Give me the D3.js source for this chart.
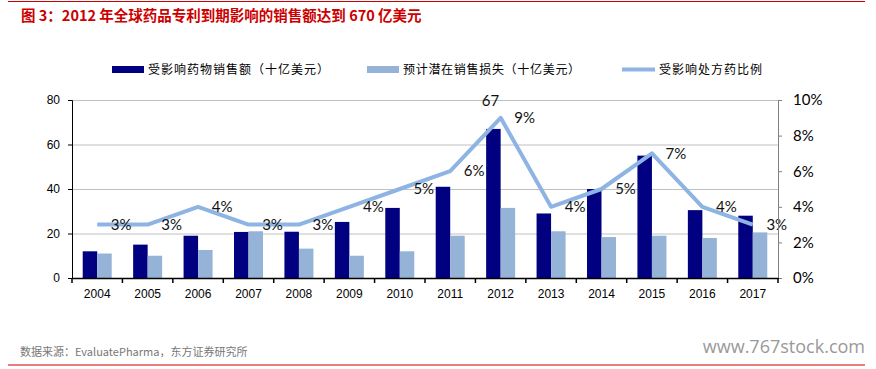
<!DOCTYPE html>
<html><head><meta charset="utf-8">
<script src="https://cdn.jsdelivr.net/npm/d3@7/dist/d3.min.js"></script>
<style>
html,body{margin:0;padding:0;background:#fff;}
svg{display:block;}
</style>
</head><body>
<svg id="c" width="876" height="369"></svg>
<script>
const years = ["2004","2005","2006","2007","2008","2009","2010","2011","2012","2013","2014","2015","2016","2017"];
const salesAffected = [12, 15, 19, 20.7, 20.8, 25.2, 31.5, 41, 67, 29, 40, 55, 30.5, 28];
const salesLost = [11, 10, 12.6, 21, 13.2, 10, 12, 19, 31.5, 21, 18.4, 19, 18, 20.5];
const ratioPct = [3, 3, 4, 3, 3, 4, 5, 6, 9, 4, 5, 7, 4, 3];
const leftTicks = [0, 20, 40, 60, 80];
const rightTicks = [0, 2, 4, 6, 8, 10];
const seriesNames = ["受影响药物销售额（十亿美元）", "预计潜在销售损失（十亿美元）", "受影响处方药比例"];
const titleText = "图 3：2012 年全球药品专利到期影响的销售额达到 670 亿美元";
const sourceText = "数据来源：EvaluatePharma，东方证券研究所";
const watermark = "www.767stock.com";

const svg = d3.select("#c");
const L = 72, R = 778, T = 100, B = 278;
const cDark = "#000080", cLight = "#95B3D7", cLine = "#8DB4E2", red = "#cc0000";

// frame lines
svg.append("line").attr("x1",8).attr("x2",865).attr("y1",1.5).attr("y2",1.5).attr("stroke",red).attr("stroke-width",1.2);
svg.append("line").attr("x1",8).attr("x2",865).attr("y1",365).attr("y2",365).attr("stroke",red).attr("stroke-width",1.2);

svg.append("text").attr("x",21).attr("y",21).text(titleText)
  .attr("fill",red).attr("font-family","'Noto Sans CJK SC', sans-serif").attr("font-weight","bold").attr("font-size",14.5);

const x = d3.scaleBand().domain(years).range([L,R]).padding(0);
const yL = d3.scaleLinear().domain([0,80]).range([B,T]);
const yR = d3.scaleLinear().domain([0,10]).range([B,T]);
const bw = 14.5;

// grid
svg.append("g").selectAll("line").data(leftTicks.filter(d=>d>0)).join("line")
  .attr("x1",L).attr("x2",R).attr("y1",d=>yL(d)+0.5).attr("y2",d=>yL(d)+0.5)
  .attr("stroke","#c0c0c0").attr("stroke-width",1);

// bars
svg.append("g").selectAll("rect").data(years).join("rect")
  .attr("x",(d)=>x(d)+x.bandwidth()/2-bw).attr("width",bw)
  .attr("y",(d,i)=>yL(salesAffected[i])).attr("height",(d,i)=>B-yL(salesAffected[i]))
  .attr("fill",cDark);
svg.append("g").selectAll("rect").data(years).join("rect")
  .attr("x",(d)=>x(d)+x.bandwidth()/2).attr("width",bw)
  .attr("y",(d,i)=>yL(salesLost[i])).attr("height",(d,i)=>B-yL(salesLost[i]))
  .attr("fill",cLight);

// line
const line = d3.line().x((d,i)=>x(years[i])+x.bandwidth()/2).y(d=>yR(d));
svg.append("path").datum(ratioPct).attr("d",line).attr("fill","none")
  .attr("stroke",cLine).attr("stroke-width",4).attr("stroke-linejoin","round");

// percent labels
svg.append("g").selectAll("text").data(ratioPct).join("text")
  .attr("x",(d,i)=>x(years[i])+x.bandwidth()/2+24).attr("y",d=>yR(d)).attr("dy","0.35em")
  .attr("text-anchor","middle").attr("font-family","Lato, sans-serif").attr("font-size",15).attr("fill","#111")
  .text(d=>d+"%");

// 67 label
const iMax = salesAffected.indexOf(d3.max(salesAffected));
svg.append("text").attr("x",x(years[iMax])+x.bandwidth()/2-bw/2-3).attr("y",yL(salesAffected[iMax])-28).attr("dy","0.35em")
  .attr("text-anchor","middle").attr("font-family","Lato, sans-serif").attr("font-size",15).attr("fill","#111")
  .text(salesAffected[iMax]);

// left axis
const gl = svg.append("g").attr("transform",`translate(${L},0)`)
  .call(d3.axisLeft(yL).tickValues(leftTicks).tickSize(4).tickPadding(8));
gl.select(".domain").attr("stroke","#000");
gl.selectAll("text").attr("font-family","'Liberation Sans', Arial, sans-serif").attr("font-size",12).attr("fill","#000");

// right axis
const gr = svg.append("g").attr("transform",`translate(${R},0)`)
  .call(d3.axisRight(yR).tickValues(rightTicks).tickSize(4).tickPadding(11).tickFormat(d=>d+"%"));
gr.select(".domain").attr("stroke","#808080");
gr.selectAll(".tick line").attr("stroke","#808080");
gr.selectAll("text").attr("font-family","Lato, sans-serif").attr("font-size",15).attr("fill","#000");

// bottom axis
const gb = svg.append("g").attr("transform",`translate(0,${B})`)
  .call(d3.axisBottom(x).tickSize(0).tickPadding(11));
gb.select(".domain").attr("stroke","#000").attr("stroke-width",1.5);
gb.selectAll("text").attr("font-family","'Liberation Sans', Arial, sans-serif").attr("font-size",12).attr("fill","#000");
const edges = years.map(d=>x(d)).concat([R]);
svg.append("g").selectAll("line").data(edges).join("line")
  .attr("x1",d=>d).attr("x2",d=>d).attr("y1",B).attr("y2",B+5).attr("stroke","#000").attr("stroke-width",1.5);

// legend
const lg = svg.append("g").attr("font-family","'Noto Sans CJK SC', sans-serif").attr("font-size",12).attr("fill","#000");
lg.append("rect").attr("x",112).attr("y",66).attr("width",32).attr("height",7).attr("fill",cDark);
lg.append("text").attr("x",148).attr("y",70).attr("dy","0.35em").attr("letter-spacing",1).text(seriesNames[0]);
lg.append("rect").attr("x",367).attr("y",66).attr("width",32).attr("height",7).attr("fill",cLight);
lg.append("text").attr("x",403).attr("y",70).attr("dy","0.35em").attr("letter-spacing",0.7).text(seriesNames[1]);
lg.append("line").attr("x1",622).attr("x2",655).attr("y1",69.5).attr("y2",69.5).attr("stroke",cLine).attr("stroke-width",4);
lg.append("text").attr("x",659).attr("y",70).attr("dy","0.35em").attr("letter-spacing",1).text(seriesNames[2]);

// source and watermark
svg.append("text").attr("x",20).attr("y",352).attr("dy","0.35em").text(sourceText)
  .attr("font-family","'Noto Sans CJK SC', sans-serif").attr("font-size",11).attr("fill","#777");
svg.append("text").attr("x",865).attr("y",347).attr("dy","0.35em").attr("text-anchor","end").text(watermark)
  .attr("font-family","'Open Sans', sans-serif").attr("font-size",18).attr("fill","#999");
</script>
</body></html>
